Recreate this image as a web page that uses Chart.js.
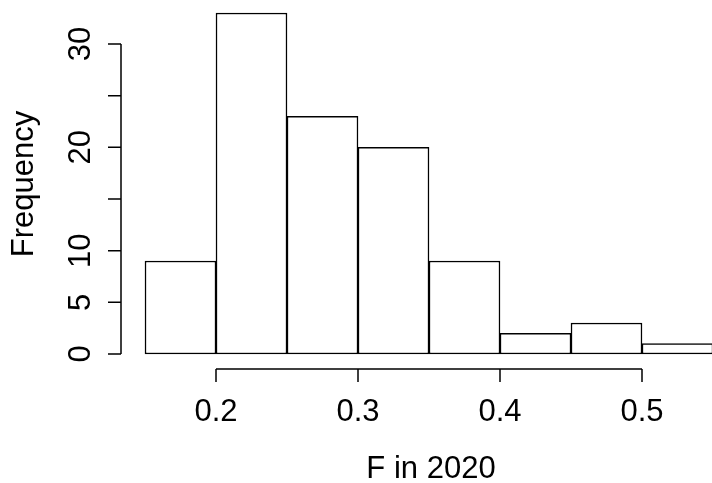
<!DOCTYPE html>
<html>
<head>
<meta charset="utf-8">
<script src="https://cdn.jsdelivr.net/npm/chart.js@4.4.1/dist/chart.umd.min.js"></script>
<style>
  html, body { margin: 0; padding: 0; background: #fff; }
  canvas { display: block; }
</style>
</head>
<body>
<canvas id="histChart" width="712" height="483"></canvas>
<script>
// histogram bins (F in 2020) dan frekuensi
var binStarts = [0.15, 0.20, 0.25, 0.30, 0.35, 0.40, 0.45, 0.50];
var binWidth = 0.05;
var counts = [9, 33, 23, 20, 9, 2, 3, 1];
var xTicks = [0.2, 0.3, 0.4, 0.5];
var yTicks = [0, 5, 10, 15, 20, 25, 30];
var yTickLabels = ["0", "5", "10", "", "20", "", "30"];

var FONT = '31px "Liberation Sans", Arial, sans-serif';

var barData = binStarts.map(function (start, i) {
    return { x: start + binWidth / 2, y: counts[i] };
});

// gambar sumbu gaya R (terpisah dari area plot)
var rAxes = {
    id: 'rAxes',
    afterDraw: function (chart) {
        var ctx = chart.ctx;
        var xs = chart.scales.x;
        var ys = chart.scales.y;
        var left = chart.chartArea.left;
        var axisY = 369;

        ctx.save();
        ctx.strokeStyle = '#000';
        ctx.fillStyle = '#000';
        ctx.lineWidth = 1.5;
        ctx.font = FONT;

        // y axis
        ctx.beginPath();
        ctx.moveTo(left, ys.getPixelForValue(yTicks[0]));
        ctx.lineTo(left, ys.getPixelForValue(yTicks[yTicks.length - 1]));
        yTicks.forEach(function (v) {
            var py = ys.getPixelForValue(v);
            ctx.moveTo(left, py);
            ctx.lineTo(left - 13, py);
        });
        ctx.stroke();

        yTicks.forEach(function (v, i) {
            var py = ys.getPixelForValue(v);
            ctx.save();
            ctx.translate(90, py);
            ctx.rotate(-Math.PI / 2);
            ctx.textAlign = 'center';
            ctx.textBaseline = 'alphabetic';
            ctx.fillText(yTickLabels[i], 0, 0);
            ctx.restore();
        });

        // x axis
        ctx.beginPath();
        ctx.moveTo(xs.getPixelForValue(xTicks[0]), axisY);
        ctx.lineTo(xs.getPixelForValue(xTicks[xTicks.length - 1]), axisY);
        xTicks.forEach(function (v) {
            var px = xs.getPixelForValue(v);
            ctx.moveTo(px, axisY);
            ctx.lineTo(px, axisY + 13);
        });
        ctx.stroke();

        ctx.textAlign = 'center';
        ctx.textBaseline = 'alphabetic';
        xTicks.forEach(function (v) {
            ctx.fillText(v.toFixed(1), xs.getPixelForValue(v), 421);
        });

        // judul sumbu
        ctx.fillText('F in 2020', 431, 478);
        ctx.save();
        ctx.translate(33, 184);
        ctx.rotate(-Math.PI / 2);
        ctx.fillText('Frequency', 0, 0);
        ctx.restore();

        ctx.restore();
    }
};

var ctx = document.getElementById('histChart').getContext('2d');
new Chart(ctx, {
    type: 'bar',
    data: {
        datasets: [{
            data: barData,
            backgroundColor: '#ffffff',
            borderColor: '#000000',
            borderWidth: 1.5,
            borderSkipped: false,
            barPercentage: 1,
            categoryPercentage: 1
        }]
    },
    options: {
        responsive: false,
        animation: false,
        layout: { padding: { left: 121, right: 0, top: 0, bottom: 115 } },
        plugins: {
            legend: { display: false },
            tooltip: { enabled: false }
        },
        scales: {
            x: {
                type: 'linear',
                display: false,
                offset: false,
                min: 0.2 - 95 / 1420,
                max: 0.2 + 496 / 1420
            },
            y: {
                display: false,
                min: -14 / 10.333,
                max: 354 / 10.333
            }
        }
    },
    plugins: [rAxes]
});
</script>
</body>
</html>
